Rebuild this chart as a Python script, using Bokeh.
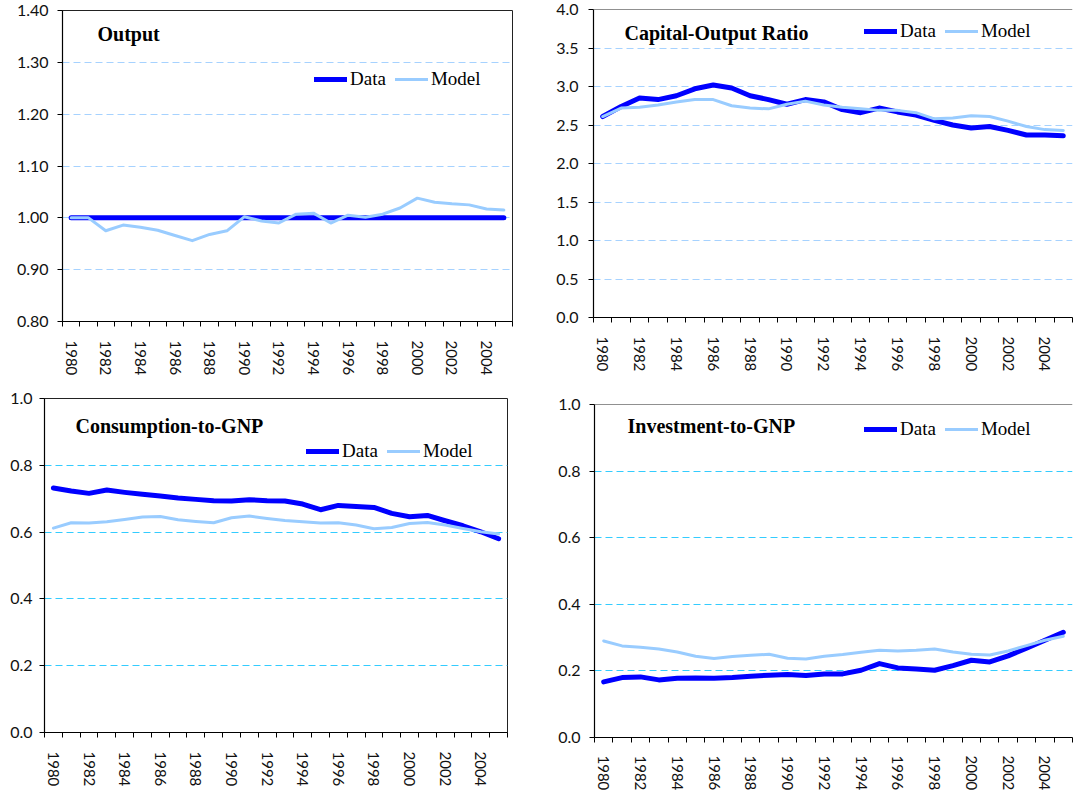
import math
from bokeh.plotting import figure
from bokeh.models import (Range1d, FixedTicker, Label, Legend, LegendItem, Span,
                          NumeralTickFormatter)
from bokeh.layouts import column, row
from bokeh.embed import file_html
from bokeh.resources import INLINE

# ---------------- data ----------------
years = [1980, 1981, 1982, 1983, 1984, 1985, 1986, 1987, 1988, 1989, 1990, 1991, 1992,
         1993, 1994, 1995, 1996, 1997, 1998, 1999, 2000, 2001, 2002, 2003, 2004, 2005]
year_tick_labels = [1980, 1982, 1984, 1986, 1988, 1990, 1992, 1994, 1996, 1998, 2000, 2002, 2004]

output_data = [1.00, 1.00, 1.00, 1.00, 1.00, 1.00, 1.00, 1.00, 1.00, 1.00, 1.00, 1.00, 1.00,
               1.00, 1.00, 1.00, 1.00, 1.00, 1.00, 1.00, 1.00, 1.00, 1.00, 1.00, 1.00, 1.00]
output_model = [1.000, 1.000, 0.975, 0.986, 0.982, 0.976, 0.966, 0.956, 0.968, 0.975, 1.002, 0.994, 0.990,
                1.007, 1.009, 0.990, 1.005, 1.001, 1.007, 1.019, 1.038, 1.030, 1.027, 1.025, 1.017, 1.015]

ko_data = [2.61, 2.74, 2.85, 2.83, 2.88, 2.97, 3.02, 2.98, 2.88, 2.83, 2.77, 2.83, 2.80,
           2.70, 2.66, 2.72, 2.67, 2.63, 2.56, 2.50, 2.46, 2.48, 2.43, 2.37, 2.37, 2.36]
ko_model = [2.61, 2.72, 2.73, 2.76, 2.80, 2.83, 2.83, 2.75, 2.72, 2.71, 2.77, 2.81, 2.76,
            2.73, 2.71, 2.69, 2.69, 2.66, 2.58, 2.59, 2.62, 2.61, 2.55, 2.48, 2.44, 2.43]

cons_data = [0.732, 0.723, 0.716, 0.726, 0.719, 0.713, 0.708, 0.702, 0.698, 0.694, 0.693, 0.697, 0.694,
             0.693, 0.684, 0.667, 0.680, 0.677, 0.674, 0.656, 0.646, 0.650, 0.634, 0.619, 0.601, 0.580]
cons_model = [0.612, 0.628, 0.627, 0.631, 0.638, 0.645, 0.647, 0.637, 0.632, 0.628, 0.643, 0.648, 0.641,
              0.635, 0.631, 0.627, 0.628, 0.621, 0.610, 0.614, 0.626, 0.629, 0.621, 0.611, 0.601, 0.594]

inv_data = [0.167, 0.180, 0.182, 0.173, 0.178, 0.179, 0.178, 0.180, 0.184, 0.187, 0.189, 0.186, 0.191,
            0.191, 0.202, 0.222, 0.209, 0.206, 0.202, 0.216, 0.232, 0.227, 0.245, 0.268, 0.292, 0.316]
inv_model = [0.290, 0.275, 0.271, 0.266, 0.257, 0.244, 0.237, 0.243, 0.247, 0.250, 0.238, 0.236, 0.244,
             0.249, 0.256, 0.262, 0.260, 0.262, 0.266, 0.257, 0.250, 0.248, 0.260, 0.276, 0.292, 0.304]

output_yticks = [0.80, 0.90, 1.00, 1.10, 1.20, 1.30, 1.40]
ko_yticks = [0.0, 0.5, 1.0, 1.5, 2.0, 2.5, 3.0, 3.5, 4.0]
ratio_yticks = [0.0, 0.2, 0.4, 0.6, 0.8, 1.0]

titles = ["Output", "Capital-Output Ratio", "Consumption-to-GNP", "Investment-to-GNP"]
series_names = ["Data", "Model"]

# ---------------- style ----------------
DATA_COLOR = "#0000FF"
MODEL_COLOR = "#99CCFF"
SERIF = "Liberation Serif"
SANS = "Lato"


def panel(width, height, borders, yticks, fmt, grid_color, title, title_pos,
          legend_pos, data, model, y_standoff, right_outline, x_standoff):
    bl, br, bt, bb = borders
    p = figure(width=width, height=height, output_backend="svg", toolbar_location=None,
               x_range=Range1d(years[0] - 0.5, years[-1] + 0.5),
               y_range=Range1d(yticks[0], yticks[-1]),
               min_border_left=bl, min_border_right=br, min_border_top=bt,
               min_border_bottom=bb, title=None)
    p.background_fill_color = "white"
    p.border_fill_color = "white"
    if right_outline:
        p.outline_line_color = "#222222"
        p.outline_line_width = 1
    else:
        p.outline_line_color = None
        p.add_layout(Span(location=yticks[-1], dimension="width",
                          line_color="#222222", line_width=1))

    # x axis: labels at even years, ticks at category boundaries
    minor = [y - 0.5 for y in years] + [years[-1] + 0.5]
    p.xaxis.ticker = FixedTicker(ticks=year_tick_labels, minor_ticks=minor)
    p.xaxis.major_tick_out = 0
    p.xaxis.major_tick_in = 0
    p.xaxis.minor_tick_out = 5
    p.xaxis.minor_tick_in = 0
    p.xaxis.minor_tick_line_color = "black"
    p.xaxis.major_label_orientation = -math.pi / 2
    p.xaxis.major_label_standoff = x_standoff
    p.xaxis.major_label_text_font = SANS
    p.xaxis.major_label_text_font_size = "15px"
    p.xaxis.major_label_text_color = "#111111"
    p.xaxis.axis_line_color = "black"
    p.xaxis.axis_line_width = 1.2

    p.yaxis.ticker = FixedTicker(ticks=yticks, minor_ticks=[])
    p.yaxis.formatter = NumeralTickFormatter(format=fmt)
    p.yaxis.major_tick_out = 5
    p.yaxis.major_tick_in = 0
    p.yaxis.minor_tick_line_color = None
    p.yaxis.major_label_standoff = y_standoff
    p.yaxis.major_label_text_font = SANS
    p.yaxis.major_label_text_font_size = "16px"
    p.yaxis.major_label_text_color = "#111111"
    p.yaxis.axis_line_color = "black"
    p.yaxis.axis_line_width = 1.2

    p.xgrid.grid_line_color = None
    p.ygrid.grid_line_color = grid_color
    p.ygrid.grid_line_dash = "7 4"
    p.ygrid.grid_line_width = 1

    r_data = p.line(years, data, line_color=DATA_COLOR, line_width=5,
                    line_cap="round", line_join="round")
    r_model = p.line(years, model, line_color=MODEL_COLOR, line_width=3,
                     line_cap="round", line_join="round")

    legend = Legend(items=[LegendItem(label=series_names[0], renderers=[r_data]),
                           LegendItem(label=series_names[1], renderers=[r_model])],
                    location=legend_pos, orientation="horizontal",
                    glyph_width=33, glyph_height=20, label_height=20,
                    label_standoff=3, spacing=9, padding=6, margin=0,
                    label_text_font=SERIF, label_text_font_size="19px",
                    label_text_color="black",
                    background_fill_color="white", background_fill_alpha=1.0,
                    border_line_color=None)
    p.add_layout(legend, "center")

    p.add_layout(Label(x=title_pos[0], y=title_pos[1], x_units="screen", y_units="screen",
                       text=title, text_font=SERIF, text_font_style="bold",
                       text_font_size="20px", text_baseline="middle",
                       text_color="black"))
    return p


p1 = panel(540, 388, (62, 28, 10, 67), output_yticks, "0.00", "#A6D2FF", titles[0],
           (35, 288), (252, 231), output_data, output_model, 9, True, 14)
p2 = panel(536, 388, (53, 4, 9, 71), ko_yticks, "0.0", "#A6D2FF", titles[1],
           (31, 285), (271, 275), ko_data, ko_model, 10, False, 14)
p3 = panel(540, 406, (44, 33, 10, 62), ratio_yticks, "0.0", "#33CCFF", titles[2],
           (31, 307), (262, 270), cons_data, cons_model, 7, True, 14)
p4 = panel(536, 406, (54, 4, 16, 57), ratio_yticks, "0.0", "#33CCFF", titles[3],
           (33, 312), (270, 297), inv_data, inv_model, 9, False, 13)

# wrap each panel in its own column so the rows do not align the plot frames
layout = column(row(column(p1), column(p2)), row(column(p3), column(p4)))

with open("out.html", "w") as f:
    f.write(file_html(layout, INLINE))
